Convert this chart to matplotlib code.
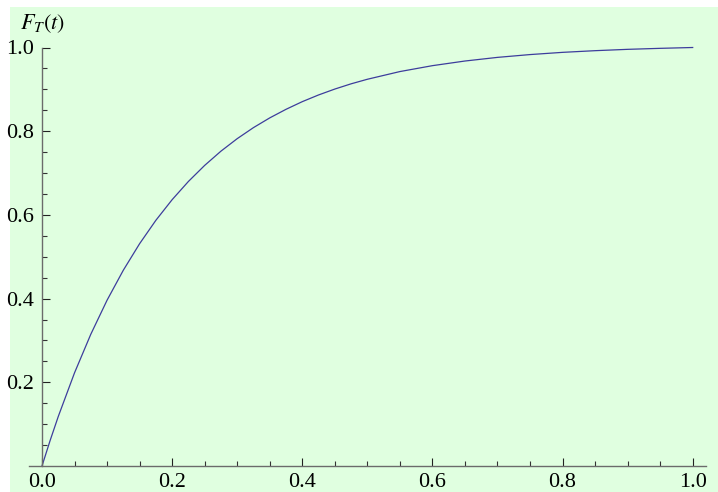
import numpy as np
import matplotlib
matplotlib.use("Agg")
import matplotlib.pyplot as plt
from matplotlib.patches import Rectangle
from matplotlib.ticker import FixedLocator

# values
t_vals = [0.0, 0.0125, 0.025, 0.05, 0.075, 0.1, 0.125, 0.15, 0.175, 0.2,
          0.225, 0.25, 0.275, 0.3, 0.325, 0.35, 0.375, 0.4, 0.425, 0.45,
          0.475, 0.5, 0.55, 0.6, 0.65, 0.7, 0.75, 0.8, 0.85, 0.9, 0.95, 1.0]
F_vals = [0.0, 0.0610, 0.1183, 0.2227, 0.3148, 0.3962, 0.4679, 0.5312, 0.5871, 0.6364,
          0.6799, 0.7183, 0.7523, 0.7822, 0.8086, 0.8318, 0.8523, 0.8706, 0.8866, 0.9007,
          0.9132, 0.9241, 0.9425, 0.9566, 0.9677, 0.9764, 0.9831, 0.9884, 0.9924, 0.9956,
          0.9980, 1.0]

x_ticks = [0.0, 0.2, 0.4, 0.6, 0.8, 1.0]
x_labels = ["0.0", "0.2", "0.4", "0.6", "0.8", "1.0"]
y_ticks = [0.2, 0.4, 0.6, 0.8, 1.0]
y_labels = ["0.2", "0.4", "0.6", "0.8", "1.0"]
minor_ticks = [0.05, 0.1, 0.15, 0.25, 0.3, 0.35, 0.45, 0.5, 0.55,
               0.65, 0.7, 0.75, 0.85, 0.9, 0.95]

plt.rcParams["font.family"] = ["Liberation Serif", "DejaVu Serif"]
plt.rcParams["mathtext.fontset"] = "stix"

W, H = 718, 492
fig = plt.figure(figsize=(W / 100, H / 100), dpi=100)
fig.patch.set_facecolor("white")
bg = Rectangle((10 / W, 0), 1, 485 / H, transform=fig.transFigure,
               facecolor="#e0ffe0", edgecolor="none", zorder=-10)
fig.add_artist(bg)

ax = fig.add_axes([29 / W, 26 / H, 677 / W, 418.5 / H])
ax.set_facecolor("none")
ax.set_xlim(-13 / 650.7, 664 / 650.7)
ax.set_ylim(0, 1)

ax.plot(t_vals, F_vals, color="#3d3d9c", lw=0.9, clip_on=False)

for s in ["top", "right"]:
    ax.spines[s].set_visible(False)
ax.spines["left"].set_position(("data", 0))
for s in ["left", "bottom"]:
    ax.spines[s].set_color("#6b6b6b")
    ax.spines[s].set_linewidth(1.0)

ax.set_xticks(x_ticks)
ax.set_xticklabels(x_labels)
ax.set_yticks(y_ticks)
ax.set_yticklabels(y_labels)
ax.xaxis.set_minor_locator(FixedLocator(minor_ticks))
ax.yaxis.set_minor_locator(FixedLocator(minor_ticks))

ax.tick_params(axis="both", which="major", direction="in", length=5.5, width=0.8,
               color="#222222", labelsize=16)
ax.tick_params(axis="both", which="minor", direction="in", length=3.5, width=0.8,
               color="#333333")
ax.tick_params(axis="x", which="major", pad=5)
ax.tick_params(axis="y", which="major", pad=6)

fig.text(20 / W, 1 - 29 / H, r"$F_{T}(t)$", fontsize=16, ha="left", va="baseline")

fig.savefig("out.png", dpi=100)
